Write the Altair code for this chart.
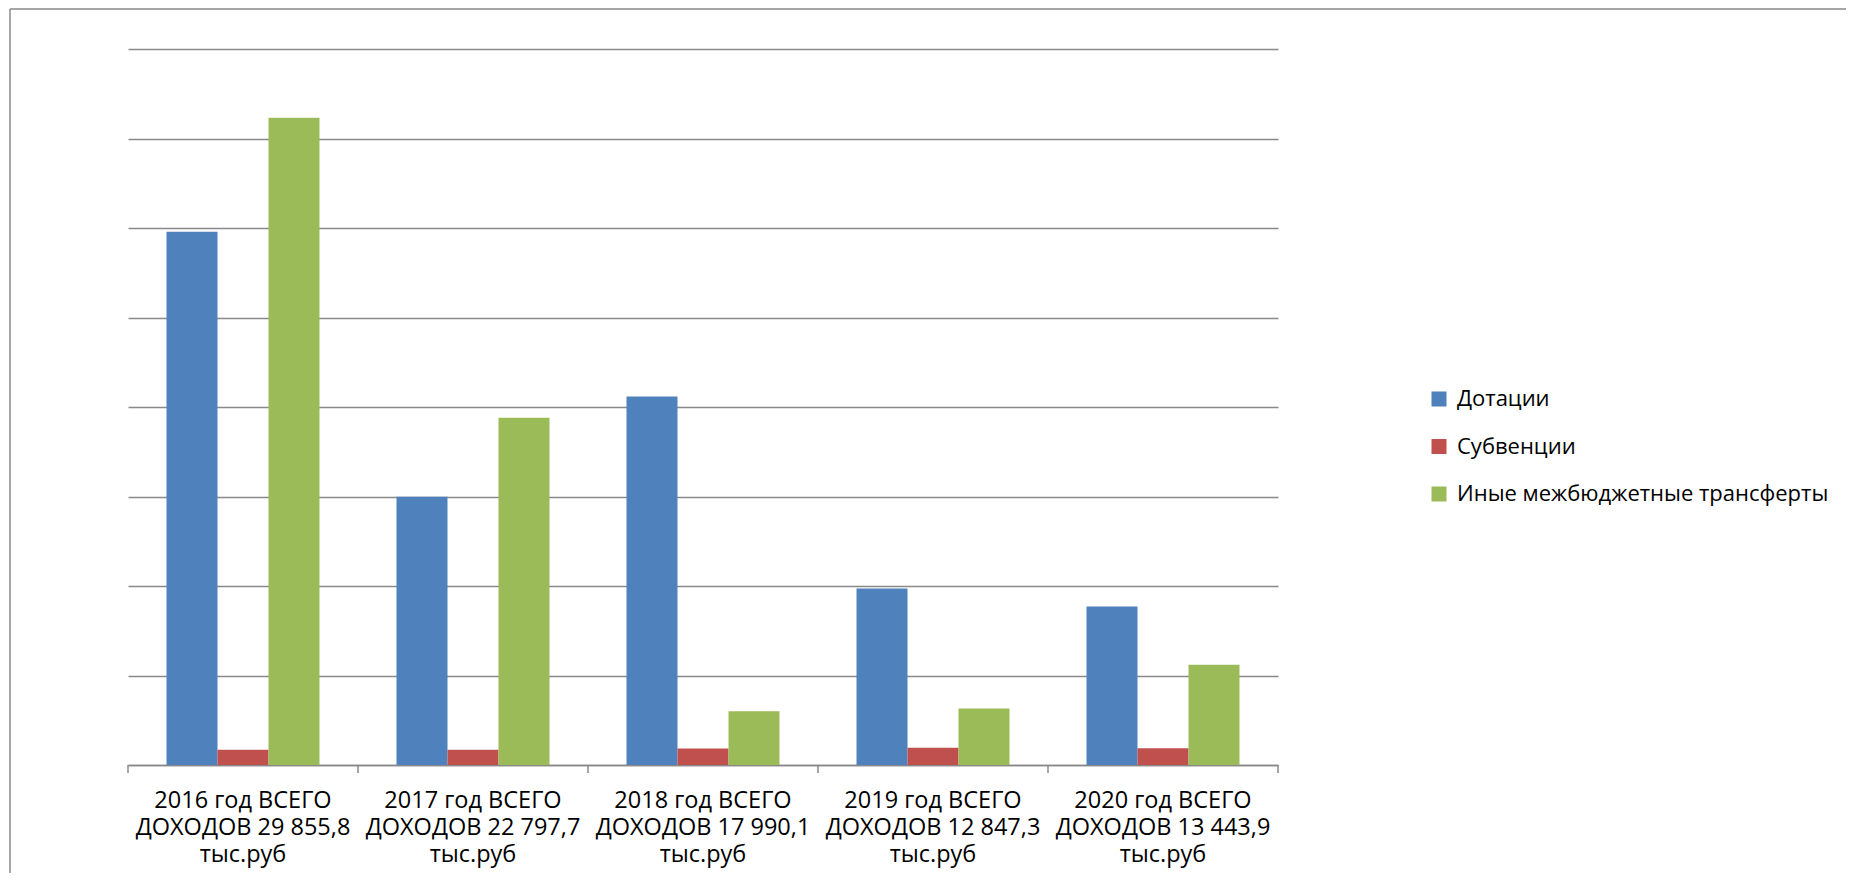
import altair as alt
import pandas as pd

categories = [
    "2016 год ВСЕГО\nДОХОДОВ 29 855,8\nтыс.руб",
    "2017 год ВСЕГО\nДОХОДОВ 22 797,7\nтыс.руб",
    "2018 год ВСЕГО\nДОХОДОВ 17 990,1\nтыс.руб",
    "2019 год ВСЕГО\nДОХОДОВ 12 847,3\nтыс.руб",
    "2020 год ВСЕГО\nДОХОДОВ 13 443,9\nтыс.руб",
]
series = ["Дотации", "Субвенции", "Иные межбюджетные трансферты"]
dotacii = [11915, 5993, 8237, 3944, 3542]
subvencii = [340, 340, 369, 384, 375]
inye = [14462, 7759, 1202, 1262, 2239]
colors = ["#4F81BD", "#C0504D", "#9BBB59"]
grid_values = [0, 2000, 4000, 6000, 8000, 10000, 12000, 14000, 16000]

rows = []
for s, vals in zip(series, [dotacii, subvencii, inye]):
    for c, v in zip(categories, vals):
        rows.append({"cat": c, "series": s, "value": v})
df = pd.DataFrame(rows)

W, H = 1150, 716
FONT = "Open Sans"
GRAY = "#898989"

x_enc = alt.X(
    "cat:N",
    sort=categories,
    scale=alt.Scale(paddingInner=0, paddingOuter=0),
    axis=alt.Axis(
        title=None,
        labelAngle=0,
        labelExpr="split(datum.label, '\\n')",
        labelFont=FONT,
        labelFontSize=23.5,
        labelLineHeight=26.8,
        labelColor="#000000",
        labelPadding=23.5,
        ticks=False,
        tickSize=0,
        domain=True,
        domainColor=GRAY,
        domainWidth=1.5,
        grid=False,
        labelLimit=400,
        labelOverlap=False,
    ),
)

bars = alt.Chart(df).mark_bar().encode(
    x=x_enc,
    xOffset=alt.XOffset(
        "series:N",
        sort=series,
        scale=alt.Scale(paddingInner=0, paddingOuter=0.755),
    ),
    y=alt.Y(
        "value:Q",
        scale=alt.Scale(domain=[0, 16000], nice=False),
        axis=alt.Axis(
            title=None,
            labels=False,
            ticks=False,
            domain=False,
            grid=True,
            gridColor=GRAY,
            gridWidth=1.5,
            values=grid_values,
        ),
    ),
    color=alt.Color(
        "series:N",
        sort=series,
        scale=alt.Scale(domain=series, range=colors),
        legend=alt.Legend(
            title=None,
            orient="none",
            legendX=1300,
            legendY=339,
            symbolType="square",
            symbolSize=225,
            symbolStrokeWidth=0,
            labelFont=FONT,
            labelFontSize=22,
            labelColor="#000000",
            labelOffset=7,
            rowPadding=25.5,
            labelLimit=600,
        ),
    ),
)

tick_df = pd.DataFrame({"cat": categories})
ticks = alt.Chart(tick_df).mark_rule(color=GRAY, strokeWidth=1.5).encode(
    x=alt.X("cat:N", sort=categories, bandPosition=0),
    y=alt.value(H),
    y2=alt.value(H + 8),
)
end_tick = alt.Chart(pd.DataFrame({"k": [0]})).mark_rule(color=GRAY, strokeWidth=1.5).encode(
    x=alt.value(W), y=alt.value(H), y2=alt.value(H + 8)
)

frame_df = pd.DataFrame({"k": [0]})
frame_top = alt.Chart(frame_df).mark_rule(color=GRAY, strokeWidth=1.5, clip=False).encode(
    x=alt.value(-118), x2=alt.value(1760), y=alt.value(-40)
)
frame_left = alt.Chart(frame_df).mark_rule(color=GRAY, strokeWidth=1.5, clip=False).encode(
    x=alt.value(-118), y=alt.value(-40), y2=alt.value(860)
)

chart = (
    alt.layer(bars, ticks, end_tick, frame_top, frame_left)
    .properties(
        width=W,
        height=H,
        padding={"left": 120, "top": 41, "right": 568, "bottom": 108},
        autosize=alt.AutoSizeParams(type="none"),
        background="#ffffff",
    )
    .configure_view(stroke=None)
)

chart.save("out.html", embed_options={"renderer": "svg", "actions": False})
